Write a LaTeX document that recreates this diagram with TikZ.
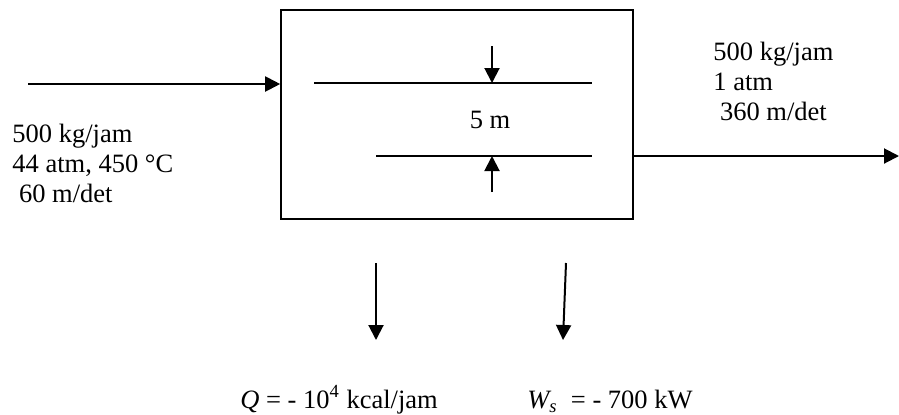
\documentclass[tikz,border=0pt]{standalone}
\usepackage{fontspec}
\setmainfont{Liberation Serif}
\usetikzlibrary{arrows.meta, positioning}

\begin{document}
\begin{tikzpicture}[x=0.5pt, y=-0.5pt,
  flow/.style={line width=1pt, -{Triangle[length=7.5pt, width=7.5pt]}},
  txt/.style={anchor=base west, inner sep=0pt, font=\fontsize{13.25}{15}\selectfont}]
  \useasboundingbox (0,0) rectangle (899,414);
  % turbine casing
  \node[draw, line width=0.8pt, minimum width=176pt, minimum height=104.5pt, inner sep=0pt] (unit) at (457,114.5) {};
  % inlet and outlet streams
  \coordinate (in) at (28,84);
  \draw[flow] (in) -- (unit.west |- in);
  \coordinate (out) at (899,156);
  \draw[flow] (unit.east |- out) -- (out);
  \foreach \x/\y/\t in {12/142/{500 kg/jam}, 12/172/{44 atm, 450 °C}, 12/202/{\ 60 m/det}}
    \node[txt] at (\x,\y) {\t};
  \foreach \x/\y/\t in {713/60/{500 kg/jam}, 713/90/{1 atm}, 713/120/{\ 360 m/det}}
    \node[txt] at (\x,\y) {\t};
  % height difference
  \draw[line width=1pt] (314,83) coordinate (hi) -- (592,83);
  \draw[line width=1pt] (376,156) coordinate (lo) -- (592,156);
  \coordinate (hitop) at (492,46);
  \coordinate (lobot) at (492,192);
  \draw[flow] (hitop) -- (hitop |- hi);
  \draw[flow] (lobot) -- (lobot |- lo);
  \node[inner sep=0pt, anchor=base, font=\fontsize{13.25}{15}\selectfont] (dz) at (490,128) {5 m};
  % heat and work
  \coordinate (q1) at (376,263);
  \coordinate (q2) at (376,340);
  \draw[flow] (q1) -- (q2);
  \coordinate (w1) at (566,263);
  \coordinate (w2) at (563,340);
  \draw[flow] (w1) -- (w2);
  \node[txt] (heat) at (240,408) {\textit{Q} = - 10\textsuperscript{4} kcal/jam};
  \node[txt] (work) at (527,408) {\textit{W\textsubscript{s}}\ \ = - 700 kW};
\end{tikzpicture}
\end{document}
